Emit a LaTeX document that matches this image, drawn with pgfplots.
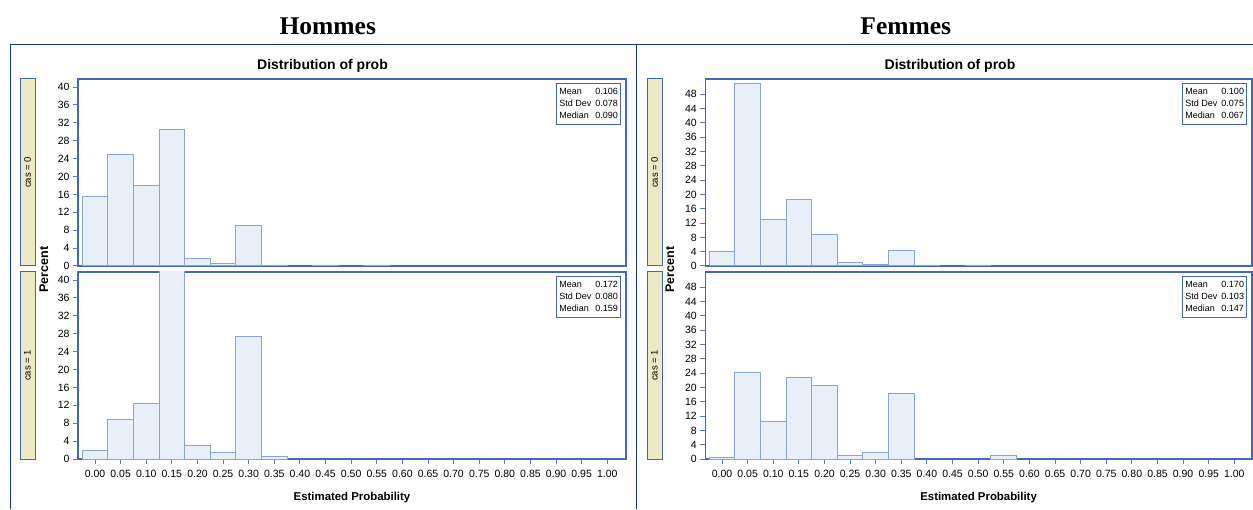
\documentclass[border=0pt]{standalone}
\usepackage{fontspec}
\setmainfont{Liberation Sans}
\newfontfamily\titlefont{Liberation Serif}
\usepackage{pgfplots}
\pgfplotsset{compat=1.18}
\usepackage{pgfplotstable}

\definecolor{axisblue}{RGB}{68,102,187}
\definecolor{tickblue}{RGB}{90,122,200}
\definecolor{baredge}{RGB}{140,163,214}
\definecolor{barfill}{RGB}{232,239,248}
\definecolor{navy}{RGB}{24,52,140}
\definecolor{stripfill}{RGB}{237,233,196}

\pgfplotstableread{
x y
0.00 15.5
0.05 25.0
0.10 18.0
0.15 30.6
0.20 1.6
0.25 0.45
0.30 9.15
0.35 0.15
0.45 0.1
0.55 0.1
}\hommesA
\pgfplotstableread{
x y
0.00 1.9
0.05 8.8
0.10 12.5
0.15 45
0.20 3.1
0.25 1.55
0.30 27.4
0.35 0.45
}\hommesB
\pgfplotstableread{
x y
0.00 3.95
0.05 50.9
0.10 13.1
0.15 18.5
0.20 8.7
0.25 0.85
0.30 0.55
0.35 4.2
0.40 0.1
0.50 0.2
}\femmesA
\pgfplotstableread{
x y
0.00 0.5
0.05 24.1
0.10 10.5
0.15 22.8
0.20 20.6
0.25 1.0
0.30 1.9
0.35 18.45
0.55 0.95
}\femmesB

\pgfplotsset{
  panel/.style={
    scale only axis, height=187pt,
    axis line style={draw=axisblue, line width=1.2pt},
    tick style={draw=tickblue, line width=1pt},
    tick align=outside, tick pos=left, major tick length=5pt,
    ticklabel style={font=\fontsize{10.5}{12}\selectfont},
    /pgf/number format/assume math mode=true,
    xtick={0,0.05,0.1,0.15,0.2,0.25,0.3,0.35,0.4,0.45,0.5,0.55,0.6,0.65,0.7,0.75,0.8,0.85,0.9,0.95,1},
    xticklabels={0.00,0.05,0.10,0.15,0.20,0.25,0.30,0.35,0.40,0.45,0.50,0.55,0.60,0.65,0.70,0.75,0.80,0.85,0.90,0.95,1.00},
    xticklabel style={yshift=-3pt},
    ymin=0,
  },
  toppanel/.style={panel, xtick=\empty},
  hbars/.style={ybar, bar width=0.05, fill=barfill, draw=baredge, line width=1pt},
  lpanel/.style={width=548pt, xmin=-0.0332, xmax=1.0365, ymax=41.8, ytick={0,4,...,40}},
  rpanel/.style={width=546.7pt, xmin=-0.0326, xmax=1.0345, ymax=52.3, ytick={0,4,...,48}},
}

\newcommand{\statbox}[3]{%
  \node[draw=axisblue, line width=1pt, fill=white, anchor=north east,
        inner xsep=2.5pt, inner ysep=2.5pt, font=\fontsize{9}{12}\selectfont]
    at ([xshift=-5pt,yshift=-4pt]rel axis cs:1,1)
    {\begin{tabular}{@{}l@{\hspace{4pt}}r@{}}Mean & #1\\ Std Dev & #2\\ Median & #3\end{tabular}};}

\begin{document}
\begin{tikzpicture}[x=1pt,y=1pt]
% outer frames
\draw[navy, line width=1pt] (10,0) -- (10,464) -- (1253,464);
\draw[navy, line width=1pt] (636,0) -- (636,464);
% titles
\node[anchor=base, font=\titlefont\bfseries\fontsize{25.5}{28}\selectfont] at (327.8,474.7) {Hommes};
\node[anchor=base, font=\titlefont\bfseries\fontsize{25.5}{28}\selectfont] at (905.8,474.7) {Femmes};
\node[anchor=base, font=\bfseries\fontsize{14}{16}\selectfont] at (322.5,439.7) {Distribution of prob};
\node[anchor=base, font=\bfseries\fontsize{14}{16}\selectfont] at (950,439.7) {Distribution of prob};
% strips
\foreach \sx in {20,647}{
  \draw[fill=stripfill, draw=axisblue, line width=1pt] (\sx,243) rectangle (\sx+15,430);
  \draw[fill=stripfill, draw=axisblue, line width=1pt] (\sx,50) rectangle (\sx+15,237);
  \node[rotate=90, font=\fontsize{9.5}{11}\selectfont] at (\sx+7.5,336.5) {cas = 0};
  \node[rotate=90, font=\fontsize{9.5}{11}\selectfont] at (\sx+7.5,143.5) {cas = 1};
}
\node[rotate=90, font=\bfseries\fontsize{12.5}{14}\selectfont] at (43.8,239.5) {Percent};
\node[rotate=90, font=\bfseries\fontsize{12.5}{14}\selectfont] at (670,239.5) {Percent};
\node[anchor=base, font=\bfseries\fontsize{11.4}{13}\selectfont] at (352,8.3) {Estimated Probability};
\node[anchor=base, font=\bfseries\fontsize{11.4}{13}\selectfont] at (978.6,8.3) {Estimated Probability};

% Hommes
\begin{axis}[toppanel, lpanel, at={(78pt,243pt)}, anchor=south west]
\addplot[hbars] table[x=x,y=y] {\hommesA};
\statbox{0.106}{0.078}{0.090}
\end{axis}
\begin{axis}[panel, lpanel, at={(78pt,50pt)}, anchor=south west]
\addplot[hbars] table[x=x,y=y] {\hommesB};
\statbox{0.172}{0.080}{0.159}
\end{axis}
% Femmes
\begin{axis}[toppanel, rpanel, at={(705.3pt,243pt)}, anchor=south west]
\addplot[hbars] table[x=x,y=y] {\femmesA};
\statbox{0.100}{0.075}{0.067}
\end{axis}
\begin{axis}[panel, rpanel, at={(705.3pt,50pt)}, anchor=south west]
\addplot[hbars] table[x=x,y=y] {\femmesB};
\statbox{0.170}{0.103}{0.147}
\end{axis}

\pgfresetboundingbox
\path[use as bounding box] (0,0) rectangle (1253,509);
\end{tikzpicture}
\end{document}
